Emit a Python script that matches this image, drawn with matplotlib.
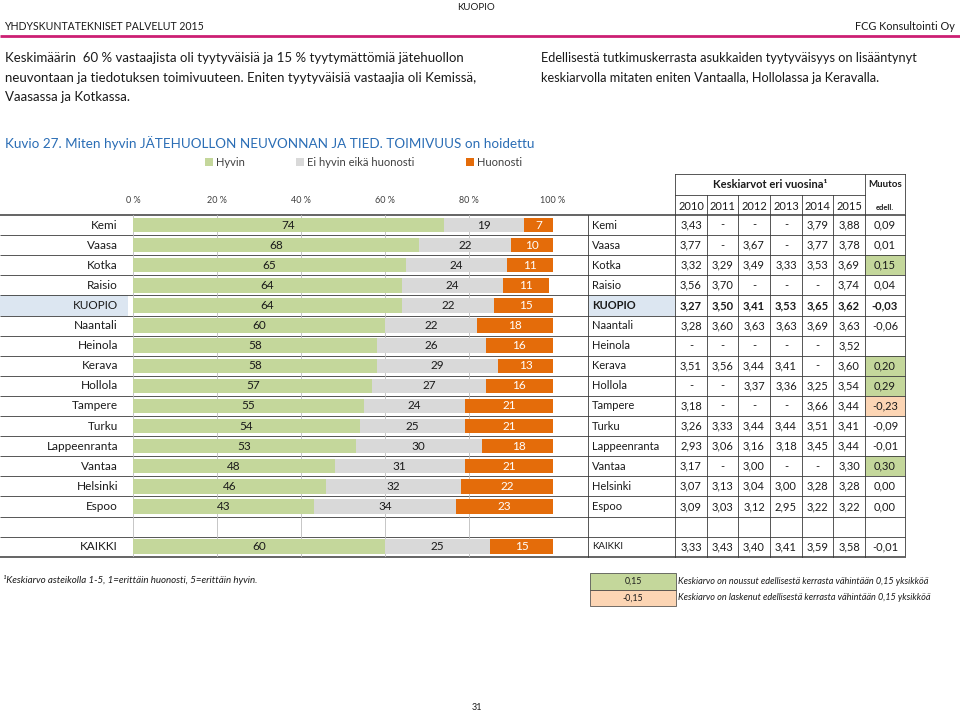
import matplotlib
matplotlib.use("Agg")
import matplotlib.pyplot as plt
from matplotlib.patches import Rectangle
import numpy as np

plt.rcParams['font.family'] = ['Lato', 'DejaVu Sans']

# ---------------- data ----------------
cities = ["Kemi", "Vaasa", "Kotka", "Raisio", "KUOPIO", "Naantali", "Heinola", "Kerava",
          "Hollola", "Tampere", "Turku", "Lappeenranta", "Vantaa", "Helsinki", "Espoo", "", "KAIKKI"]
hyvin = [74, 68, 65, 64, 64, 60, 58, 58, 57, 55, 54, 53, 48, 46, 43, None, 60]
neutral = [19, 22, 24, 24, 22, 22, 26, 29, 27, 24, 25, 30, 31, 32, 34, None, 25]
huonosti = [7, 10, 11, 11, 15, 18, 16, 13, 16, 21, 21, 18, 21, 22, 23, None, 15]

years = ["2010", "2011", "2012", "2013", "2014", "2015"]
means = [
    ["3,43", "-", "-", "-", "3,79", "3,88"],
    ["3,77", "-", "3,67", "-", "3,77", "3,78"],
    ["3,32", "3,29", "3,49", "3,33", "3,53", "3,69"],
    ["3,56", "3,70", "-", "-", "-", "3,74"],
    ["3,27", "3,50", "3,41", "3,53", "3,65", "3,62"],
    ["3,28", "3,60", "3,63", "3,63", "3,69", "3,63"],
    ["-", "-", "-", "-", "-", "3,52"],
    ["3,51", "3,56", "3,44", "3,41", "-", "3,60"],
    ["-", "-", "3,37", "3,36", "3,25", "3,54"],
    ["3,18", "-", "-", "-", "3,66", "3,44"],
    ["3,26", "3,33", "3,44", "3,44", "3,51", "3,41"],
    ["2,93", "3,06", "3,16", "3,18", "3,45", "3,44"],
    ["3,17", "-", "3,00", "-", "-", "3,30"],
    ["3,07", "3,13", "3,04", "3,00", "3,28", "3,28"],
    ["3,09", "3,03", "3,12", "2,95", "3,22", "3,22"],
    ["", "", "", "", "", ""],
    ["3,33", "3,43", "3,40", "3,41", "3,59", "3,58"],
]
change = ["0,09", "0,01", "0,15", "0,04", "-0,03", "-0,06", "", "0,20", "0,29", "-0,23",
          "-0,09", "-0,01", "0,30", "0,00", "0,00", "", "-0,01"]
change_val = [0.09, 0.01, 0.15, 0.04, -0.03, -0.06, None, 0.20, 0.29, -0.23,
              -0.09, -0.01, 0.30, 0.00, 0.00, None, -0.01]

ticks = [0, 20, 40, 60, 80, 100]
tick_labels = ["0 %", "20 %", "40 %", "60 %", "80 %", "100 %"]

C_GREEN = "#c4d79b"
C_GREY = "#d9d9d9"
C_ORANGE = "#e46c0a"
C_UP = "#c4d79b"
C_DOWN = "#fcd5b4"
C_BLUE = "#dce6f1"
TXT = "#1a1a1a"
LINE = "#3a3a3a"

W, H = 960, 714
fig = plt.figure(figsize=(W / 100, H / 100), dpi=100)

lay = fig.add_axes([0, 0, 1, 1], zorder=0)
lay.set_xlim(0, W)
lay.set_ylim(H, 0)
lay.axis('off')

# geometry (pixels)
top = 215.0
rh = 20.1
n = len(cities)
bottom = top + n * rh
x0, x1 = 133.0, 553.0


def row_y(i):
    return top + (i + 0.5) * rh


# --------------- header ---------------
lay.text(476, 8, "KUOPIO", fontsize=7, ha='center', va='center', color=TXT)
lay.text(4, 27, "YHDYSKUNTATEKNISET PALVELUT 2015", fontsize=7.6, ha='left', va='center', color=TXT)
lay.text(955, 27, "FCG Konsultointi Oy", fontsize=7.8, ha='right', va='center', color=TXT)
lay.plot([0, 960], [36, 36], color="#cc1f73", lw=2, solid_capstyle='butt')

para_l = ["Keskimäärin  60 % vastaajista oli tyytyväisiä ja 15 % tyytymättömiä jätehuollon",
          "neuvontaan ja tiedotuksen toimivuuteen. Eniten tyytyväisiä vastaajia oli Kemissä,",
          "Vaasassa ja Kotkassa."]
para_r = ["Edellisestä tutkimuskerrasta asukkaiden tyytyväisyys on lisääntynyt",
          "keskiarvolla mitaten eniten Vantaalla, Hollolassa ja Keravalla."]
for k, s in enumerate(para_l):
    lay.text(5, 58 + k * 19.5, s, fontsize=9.5, ha='left', va='center', color=TXT)
for k, s in enumerate(para_r):
    lay.text(541, 58 + k * 19.5, s, fontsize=9.2, ha='left', va='center', color=TXT)

lay.text(5, 143, "Kuvio 27. Miten hyvin JÄTEHUOLLON NEUVONNAN JA TIED. TOIMIVUUS on hoidettu",
         fontsize=9.7, ha='left', va='center', color="#2a6db5")

# legend
for lx, col, lab in [(205, C_GREEN, "Hyvin"), (296, C_GREY, "Ei hyvin eikä huonosti"),
                     (466, C_ORANGE, "Huonosti")]:
    lay.add_patch(Rectangle((lx, 158), 8, 8, facecolor=col, edgecolor='none'))
    lay.text(lx + 11, 162, lab, fontsize=8, ha='left', va='center', color="#404040")

# --------------- bar chart ---------------
ax = fig.add_axes([x0 / W, 1 - bottom / H, (x1 - x0) / W, (bottom - top) / H], zorder=1)
ax.patch.set_alpha(0)
ax.set_xlim(0, 100)
ax.set_ylim(n - 0.5, -0.5)
ypos = np.arange(n)
valid = [i for i in range(n) if hyvin[i] is not None]
yv = ypos[valid]
g = np.array([hyvin[i] for i in valid], float)
m = np.array([neutral[i] for i in valid], float)
b = np.array([huonosti[i] for i in valid], float)
bh = 0.72
ax.barh(yv, g, height=bh, color=C_GREEN, zorder=2)
ax.barh(yv, m, left=g, height=bh, color=C_GREY, zorder=2)
ax.barh(yv, b, left=g + m, height=bh, color=C_ORANGE, zorder=2)
for yy, gg, mm, bb in zip(yv, g, m, b):
    ax.text(gg / 2, yy, f"{int(gg)}", ha='center', va='center', fontsize=8.5, color=TXT, zorder=3)
    ax.text(gg + mm / 2, yy, f"{int(mm)}", ha='center', va='center', fontsize=8.5, color=TXT, zorder=3)
    ax.text(gg + mm + bb / 2, yy, f"{int(bb)}", ha='center', va='center', fontsize=8.5,
            color="white", zorder=3)
for t in ticks:
    ax.axvline(t, color="#bdbdbd", lw=0.6, zorder=0)
ax.xaxis.tick_top()
ax.set_xticks(ticks)
ax.set_xticklabels(tick_labels, fontsize=6.5, color="#404040")
ax.tick_params(axis='x', length=0, pad=7)
ax.set_yticks([])
for sp in ax.spines.values():
    sp.set_visible(False)

# row labels
kuopio_i = cities.index("KUOPIO")
lay.add_patch(Rectangle((0, top + kuopio_i * rh), 128, rh, facecolor=C_BLUE, edgecolor='none'))
for i, c in enumerate(cities):
    lay.text(118, row_y(i), c, fontsize=8.5, ha='right', va='center', color=TXT)

# --------------- table ---------------
col_edges = [588, 675, 707, 738, 770, 802, 833, 865, 905]
lay.add_patch(Rectangle((col_edges[0], top + kuopio_i * rh), col_edges[1] - col_edges[0], rh,
                        facecolor=C_BLUE, edgecolor='none'))
for i in range(n):
    cv = change_val[i]
    if cv is not None and cv >= 0.15:
        lay.add_patch(Rectangle((col_edges[7], top + i * rh), col_edges[8] - col_edges[7], rh,
                                facecolor=C_UP, edgecolor='none'))
    elif cv is not None and cv <= -0.15:
        lay.add_patch(Rectangle((col_edges[7], top + i * rh), col_edges[8] - col_edges[7], rh,
                                facecolor=C_DOWN, edgecolor='none'))

for i in range(n):
    fw = 'bold' if cities[i] == "KUOPIO" else 'normal'
    fs = 7 if cities[i] == "KAIKKI" else 8
    lay.text(col_edges[0] + 4, row_y(i), cities[i], fontsize=fs, ha='left', va='center',
             color=TXT, fontweight=fw)
    for j in range(6):
        cx = (col_edges[j + 1] + col_edges[j + 2]) / 2
        lay.text(cx, row_y(i), means[i][j], fontsize=8, ha='center', va='center',
                 color=TXT, fontweight=fw)
    lay.text((col_edges[7] + col_edges[8]) / 2, row_y(i), change[i], fontsize=8,
             ha='center', va='center', color=TXT, fontweight=fw)

# table header
h0, h1 = 174, 195
lay.text((col_edges[1] + col_edges[7]) / 2, (h0 + h1) / 2, "Keskiarvot eri vuosina¹",
         fontsize=8, ha='center', va='center', color=TXT, fontweight='bold')
for j, yr in enumerate(years):
    lay.text((col_edges[j + 1] + col_edges[j + 2]) / 2, (h1 + top) / 2 + 1, yr, fontsize=8,
             ha='center', va='center', color=TXT)
lay.text((col_edges[7] + col_edges[8]) / 2, (h0 + h1) / 2, "Muutos", fontsize=7,
         ha='center', va='center', color=TXT, fontweight='bold')
lay.text((col_edges[7] + col_edges[8]) / 2, (h1 + top) / 2 + 2, "edell.", fontsize=5.5,
         ha='center', va='center', color=TXT, fontweight='bold')

LW = 0.6
lay.plot([col_edges[1], col_edges[8]], [h0, h0], color=LINE, lw=LW)
lay.plot([col_edges[1], col_edges[7]], [h1, h1], color=LINE, lw=LW)
lay.plot([col_edges[1], col_edges[1]], [h0, top], color=LINE, lw=LW)
lay.plot([col_edges[7], col_edges[7]], [h0, top], color=LINE, lw=LW)
lay.plot([col_edges[8], col_edges[8]], [h0, top], color=LINE, lw=LW)
for j in range(2, 7):
    lay.plot([col_edges[j], col_edges[j]], [h1, top], color=LINE, lw=LW)

# row separators
for i in range(n + 1):
    yy = top + i * rh
    lw = 1.1 if i in (0, n) else LW
    lay.plot([0, col_edges[8]], [yy, yy], color=LINE, lw=lw, solid_capstyle='butt')
for xe in col_edges:
    lay.plot([xe, xe], [top, bottom], color=LINE, lw=LW)

# --------------- footnote & legend ---------------
lay.text(3, 580, "¹Keskiarvo asteikolla 1-5, 1=erittäin huonosti, 5=erittäin hyvin.",
         fontsize=7, style='italic', ha='left', va='center', color=TXT)
lay.add_patch(Rectangle((590, 573), 86, 16.5, facecolor=C_UP, edgecolor=LINE, lw=0.5))
lay.add_patch(Rectangle((590, 589.5), 86, 16.5, facecolor=C_DOWN, edgecolor=LINE, lw=0.5))
lay.text(633, 581, "0,15", fontsize=6.3, ha='center', va='center', color=TXT)
lay.text(633, 598, "-0,15", fontsize=6.3, ha='center', va='center', color=TXT)
lay.text(678, 581, "Keskiarvo on noussut edellisestä kerrasta vähintään 0,15 yksikköä",
         fontsize=6.6, style='italic', ha='left', va='center', color=TXT)
lay.text(678, 598, "Keskiarvo on laskenut edellisestä kerrasta vähintään 0,15 yksikköä",
         fontsize=6.6, style='italic', ha='left', va='center', color=TXT)

lay.text(477, 708, "31", fontsize=6.5, ha='center', va='center', color=TXT)

fig.savefig("out.png", dpi=100)
